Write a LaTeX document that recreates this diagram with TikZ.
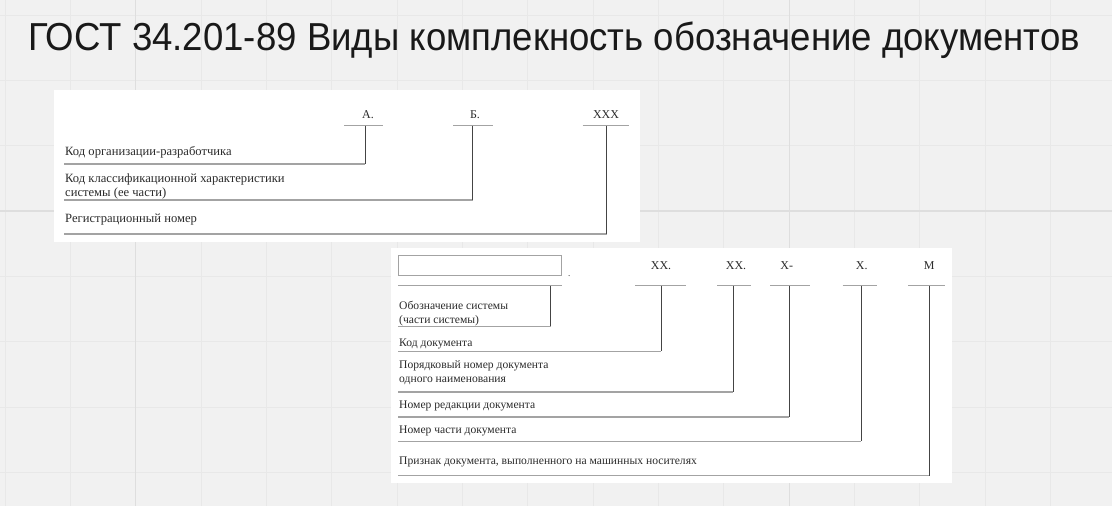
\documentclass[tikz,border=0pt]{standalone}
\usepackage{fontspec}
\setmainfont{Liberation Serif}
\newfontfamily\headfont{Liberation Sans}
\definecolor{bgc}{HTML}{F1F1F1}
\definecolor{gridc}{HTML}{E8E8E8}
\definecolor{gridd}{HTML}{DEDEDE}
\definecolor{rulec}{HTML}{A3A3A3}
\definecolor{stemc}{HTML}{444444}
\definecolor{inkc}{HTML}{2B2B2B}
\tikzset{
  gridline/.style={gridc, line width=1pt},
  gridmajor/.style={gridd, line width=1.2pt},
  panel/.style={fill=white},
  codelbl/.style={font=\fontsize{12}{14}\selectfont, text=inkc, inner sep=0pt, anchor=base},
  desc/.style={font=\fontsize{12.6}{13.8}\selectfont, text=inkc, inner sep=0pt, anchor=base west, align=left},
  descsm/.style={desc, font=\fontsize{11.6}{13.6}\selectfont},
  ruleline/.style={rulec, line width=1.3pt},
  stemline/.style={stemc, line width=0.9pt},
}
\begin{document}
\begin{tikzpicture}[x=1pt,y=-1pt]
\useasboundingbox (0,0) rectangle (1112,506);
\fill[bgc] (0,0) rectangle (1112,506);
% background grid
\foreach \i in {0,...,16} \draw[gridline] ({5+65.35*\i},0) -- ++(0,506);
\foreach \j in {0,...,7} \draw[gridline] (0,{15+65.35*\j}) -- ++(1112,0);
\draw[gridmajor] ({5+65.35*2},0) -- ++(0,506);
\draw[gridmajor] ({5+65.35*12},0) -- ++(0,506);
\draw[gridmajor] (0,{15+65.35*3}) -- ++(1112,0);

% title
\node[anchor=base west, inner sep=0pt, text=black!90, xscale=0.938, font=\headfont\fontsize{39}{44}\selectfont] (title) at (28,50) {ГОСТ 34.201-89 Виды комплекность обозначение документов};

% ---------- upper panel: system designation ----------
\fill[panel] (54,90) rectangle (640,242);

\node[codelbl] (cA) at (368,118.3) {А.};
\node[codelbl] (cB) at (475,118.3) {Б.};
\node[codelbl] (cR) at (606,118.3) {ХХХ};

\draw[ruleline] (344,125.7) -- (383.3,125.7);
\draw[ruleline] (453.3,125.7) -- (493.3,125.7);
\draw[ruleline] (582.7,125.7) -- (629.3,125.7);

% two-line nodes are anchored at the baseline of their last line
\node[desc] (dOrg) at (65,155.7) {Код организации-разработчика};
\node[desc] (dCls) at (65,196) {Код классификационной характеристики\\системы (ее части)};
\node[desc] (dReg) at (65,222.7) {Регистрационный номер};

\coordinate (sA) at (365,125.7);   \coordinate (kA) at (365,164);   \coordinate (eA) at (64.3,164);
\coordinate (sB) at (472.7,125.7); \coordinate (kB) at (472.7,200); \coordinate (eB) at (64.3,200);
\coordinate (sR) at (606.7,125.7); \coordinate (kR) at (606.7,234); \coordinate (eR) at (64.3,234);

\draw[ruleline] (eA) -- (kA);
\draw[ruleline] (eB) -- (kB);
\draw[ruleline] (eR) -- (kR);
\draw[stemline] (sA) -- (kA);
\draw[stemline] (sB) -- (kB);
\draw[stemline] (sR) -- (kR);

% ---------- lower panel: document designation ----------
\fill[panel] (391,248) rectangle (952,483);

\node[draw=rulec, line width=1pt, minimum width=163.4pt, minimum height=19.6pt, inner sep=0pt] (sys) at (480,265.5) {};
\node[codelbl, font=\fontsize{9}{10}\selectfont] (dot) at (569.3,276) {.};
\node[codelbl] (c1) at (661,269.7) {ХХ.};
\node[codelbl] (c2) at (736,269.7) {ХХ.};
\node[codelbl] (c3) at (786.7,269.7) {Х-};
\node[codelbl] (c4) at (861.7,269.7) {Х.};
\node[codelbl] (c5) at (929.3,269.7) {М};

\draw[ruleline] (398.3,285.7) -- (562.3,285.7);
\draw[ruleline] (635,285.7) -- (686,285.7);
\draw[ruleline] (717.3,285.7) -- (750.7,285.7);
\draw[ruleline] (770,285.7) -- (810,285.7);
\draw[ruleline] (842.7,285.7) -- (877.3,285.7);
\draw[ruleline] (908.3,285.7) -- (945,285.7);

\node[descsm] (d0) at (399,323) {Обозначение системы\\(части системы)};
\node[descsm] (d1) at (399,346.3) {Код документа};
\node[descsm] (d2) at (399,382.3) {Порядковый номер документа\\одного наименования};
\node[descsm] (d3) at (399,408.7) {Номер редакции документа};
\node[descsm] (d4) at (399,433) {Номер части документа};
\node[descsm] (d5) at (399,464) {Признак документа, выполненного на машинных носителях};

\coordinate (s0) at (550.7,285.7); \coordinate (k0) at (550.7,326.3); \coordinate (e0) at (398.3,326.3);
\coordinate (s1) at (661,285.7);   \coordinate (k1) at (661,351.3);   \coordinate (e1) at (398.3,351.3);
\coordinate (s2) at (733.3,285.7); \coordinate (k2) at (733.3,392);   \coordinate (e2) at (398.3,392);
\coordinate (s3) at (789.3,285.7); \coordinate (k3) at (789.3,417);   \coordinate (e3) at (398.3,417);
\coordinate (s4) at (861,285.7);   \coordinate (k4) at (861,441.3);   \coordinate (e4) at (398.3,441.3);
\coordinate (s5) at (929.3,285.7); \coordinate (k5) at (929.3,475.7); \coordinate (e5) at (398.3,475.7);

\foreach \n in {0,...,5} {
  \draw[ruleline] (e\n) -- (k\n);
  \draw[stemline] (s\n) -- (k\n);
}
\end{tikzpicture}
\end{document}
